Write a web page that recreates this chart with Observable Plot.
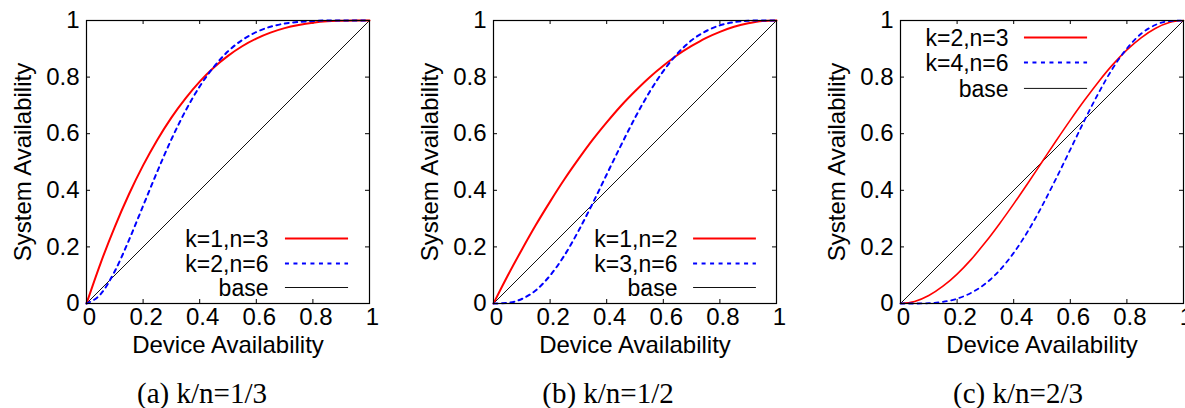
<!DOCTYPE html>
<html><head><meta charset="utf-8">
<script src="https://cdn.jsdelivr.net/npm/d3@7"></script>
<script src="https://cdn.jsdelivr.net/npm/@observablehq/plot@0.6"></script>
<style>
html,body{margin:0;padding:0;background:#fff;overflow:hidden;width:1185px;height:408px;}
#root{position:relative;width:1185px;height:408px;overflow:hidden;background:#fff;}
.panel{position:absolute;top:0;}
#caps{position:absolute;left:0;top:0;}
</style></head>
<body><div id="root"></div>
<script>
// ---- data ----
const deviceAvail = [0,0.05,0.1,0.15,0.2,0.25,0.3,0.35,0.4,0.45,0.5,0.55,0.6,0.65,0.7,0.75,0.8,0.85,0.9,0.95,1];
const sysK1N3 = [0,0.143,0.271,0.386,0.488,0.578,0.657,0.725,0.784,0.834,0.875,0.909,0.936,0.957,0.973,0.984,0.992,0.997,0.999,1,1];
const sysK2N6 = [0,0.033,0.114,0.224,0.345,0.466,0.580,0.681,0.767,0.836,0.891,0.931,0.959,0.978,0.989,0.995,0.998,1,1,1,1];
const sysK1N2 = [0,0.098,0.19,0.278,0.36,0.438,0.51,0.578,0.64,0.698,0.75,0.798,0.84,0.878,0.91,0.938,0.96,0.978,0.99,0.998,1];
const sysK3N6 = [0,0.002,0.016,0.047,0.099,0.169,0.256,0.353,0.456,0.558,0.656,0.745,0.821,0.883,0.930,0.962,0.983,0.994,0.999,1,1];
const sysK2N3 = [0,0.007,0.028,0.061,0.104,0.156,0.216,0.282,0.352,0.425,0.5,0.575,0.648,0.718,0.784,0.844,0.896,0.939,0.972,0.993,1];
const sysK4N6 = [0,0,0.001,0.006,0.017,0.038,0.070,0.117,0.179,0.255,0.344,0.442,0.544,0.647,0.744,0.831,0.901,0.953,0.984,0.998,1];
const baseX = [0,1];
const baseY = [0,1];
const tickValues = [0,0.2,0.4,0.6,0.8,1];
const tickLabels = ["0","0.2","0.4","0.6","0.8","1"];
const xTitle = "Device Availability";
const yTitle = "System Availability";
const panelCaptions = ["(a) k/n=1/3","(b) k/n=1/2","(c) k/n=2/3"];
const legendA = ["k=1,n=3","k=2,n=6","base"];
const legendB = ["k=1,n=2","k=3,n=6","base"];
const legendC = ["k=2,n=3","k=4,n=6","base"];

// ---- layout / style ----
const FW = 283; // frame size px
const sans = '"Liberation Sans", Arial, Helvetica, sans-serif';
const labelMap = new Map(tickValues.map((v,i)=>[v,tickLabels[i]]));
const panels = [
  {left:0, red:sysK1N3, blue:sysK2N6, legend:legendA, redW:2, blueW:2,
   leg:{textX:0.643, x1:0.703, x2:0.926, rows:[0.2297,0.1413,0.0565]}},
  {left:407, red:sysK1N2, blue:sysK3N6, legend:legendB, redW:2, blueW:2,
   leg:{textX:0.650, x1:0.707, x2:0.929, rows:[0.2297,0.1413,0.0565]}},
  {left:814, red:sysK2N3, blue:sysK4N6, legend:legendC, redW:1.6, blueW:1.8,
   leg:{textX:0.382, x1:0.438, x2:0.661, rows:[0.940,0.852,0.760]}}
];

const root = document.getElementById("root");

function pts(xs, ys){ return xs.map((x,i)=>({x, y: ys[i]})); }

panels.forEach((p) => {
  const L = p.leg;
  const chart = Plot.plot({
    width: 400, height: 360,
    marginLeft: 86, marginRight: 31, marginTop: 20, marginBottom: 57,
    x: {domain: [0,1]}, y: {domain: [0,1]},
    style: {fontFamily: sans, fontSize: "24px", color: "#000", background: "transparent", overflow: "visible"},
    marks: [
      Plot.axisX({ticks: tickValues, tickSize: 0, tickPadding: 4, dx: 3, fontSize: 24, tickFormat: d => labelMap.get(d), label: null}),
      Plot.axisY({ticks: tickValues, tickSize: 0, tickPadding: 7, fontSize: 24, tickFormat: d => labelMap.get(d), label: null}),
      Plot.tickY(tickValues, {y: d => d, insetRight: FW - 4, stroke: "#000", strokeWidth: 1}),
      Plot.tickY(tickValues, {y: d => d, insetLeft: FW - 4, stroke: "#000", strokeWidth: 1}),
      Plot.tickX(tickValues, {x: d => d, insetTop: FW - 4, stroke: "#000", strokeWidth: 1}),
      Plot.tickX(tickValues, {x: d => d, insetBottom: FW - 4, stroke: "#000", strokeWidth: 1}),
      Plot.line(pts(baseX, baseY), {x: "x", y: "y", stroke: "#111", strokeWidth: 1}),
      Plot.line(pts(deviceAvail, p.red), {x: "x", y: "y", stroke: "#ff0000", strokeWidth: p.redW, curve: "monotone-x"}),
      Plot.line(pts(deviceAvail, p.blue), {x: "x", y: "y", stroke: "#0000ff", strokeWidth: p.blueW, strokeDasharray: "4,4.5", curve: "monotone-x"}),
      Plot.frame({stroke: "#000", strokeWidth: 1.2}),
      Plot.text([xTitle], {frameAnchor: "bottom", lineAnchor: "top", dy: 32, fontSize: 24}),
      Plot.text([yTitle], {frameAnchor: "left", textAnchor: "middle", lineAnchor: "middle", rotate: -90, dx: -63, fontSize: 24}),
      Plot.text(p.legend, {x: () => L.textX, y: (d,i) => L.rows[i], text: d => d, textAnchor: "end", lineAnchor: "middle", dy: 1.5, fontSize: 23}),
      Plot.ruleY([L.rows[0]], {y: d => d, x1: () => L.x1, x2: () => L.x2, stroke: "#ff0000", strokeWidth: 2}),
      Plot.ruleY([L.rows[1]], {y: d => d, x1: () => L.x1, x2: () => L.x2, stroke: "#0000ff", strokeWidth: 2, strokeDasharray: "4,4.5"}),
      Plot.ruleY([L.rows[2]], {y: d => d, x1: () => L.x1, x2: () => L.x2, stroke: "#111", strokeWidth: 1})
    ]
  });
  chart.classList.add("panel");
  chart.style.left = p.left + "px";
  root.appendChild(chart);
});

// captions
const capX = [202, 608, 1018];
const caps = d3.select(root).append("svg").attr("id","caps").attr("width",1185).attr("height",408);
caps.selectAll("text").data(panelCaptions).join("text")
  .attr("x", (d,i) => capX[i]).attr("y", 403)
  .attr("text-anchor","middle")
  .attr("font-family",'"Liberation Serif", "Times New Roman", serif')
  .attr("font-size", 29).attr("fill","#000")
  .text(d => d);
</script>
</body></html>
